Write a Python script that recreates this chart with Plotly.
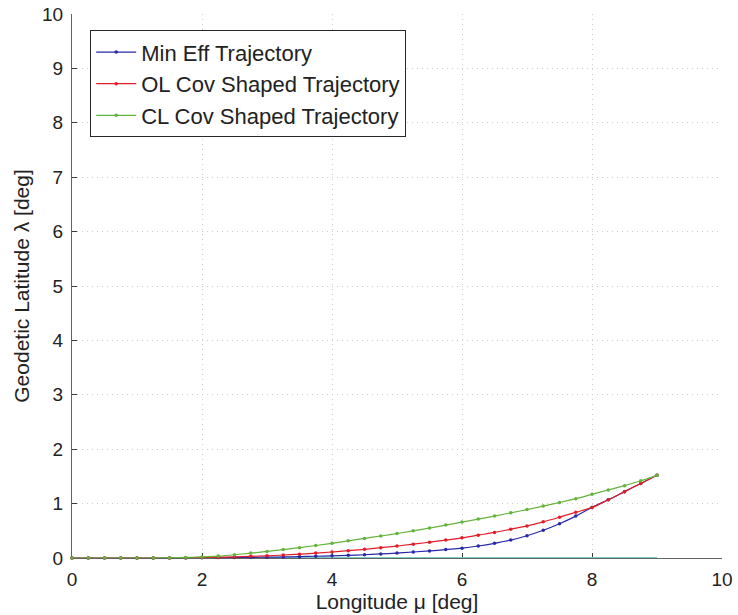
import plotly.graph_objects as go

# Longitude samples [deg]
longitude = [0, 0.25, 0.5, 0.75, 1, 1.25, 1.5, 1.75, 2, 2.25, 2.5, 2.75, 3, 3.25, 3.5, 3.75,
             4, 4.25, 4.5, 4.75, 5, 5.25, 5.5, 5.75, 6, 6.25, 6.5, 6.75, 7, 7.25, 7.5, 7.75,
             8, 8.25, 8.5, 8.75, 9]

# Geodetic latitude [deg] for each trajectory
min_eff = [0, 0, 0, 0, 0, 0, 0, 0.002, 0.005, 0.007, 0.01, 0.012, 0.015, 0.02, 0.025, 0.032,
           0.04, 0.05, 0.06, 0.075, 0.09, 0.11, 0.13, 0.155, 0.18, 0.22, 0.27, 0.33, 0.41, 0.51,
           0.63, 0.77, 0.93, 1.07, 1.22, 1.37, 1.52]
ol_cov = [0, 0, 0, 0, 0, 0, 0, 0.005, 0.01, 0.015, 0.02, 0.03, 0.04, 0.055, 0.07, 0.09,
          0.11, 0.135, 0.16, 0.19, 0.22, 0.255, 0.29, 0.33, 0.37, 0.42, 0.47, 0.53, 0.59, 0.665,
          0.75, 0.84, 0.93, 1.07, 1.22, 1.37, 1.52]
cl_cov = [0, 0, 0, 0, 0, 0, 0.005, 0.01, 0.02, 0.035, 0.06, 0.09, 0.12, 0.155, 0.19, 0.23,
          0.27, 0.315, 0.36, 0.405, 0.45, 0.50, 0.55, 0.605, 0.66, 0.715, 0.77, 0.83, 0.89, 0.955,
          1.02, 1.09, 1.17, 1.25, 1.33, 1.42, 1.52]

# Reference ground line along zero latitude
ground_lon = [2, 9]
ground_lat = [0, 0]

FONT = "Liberation Sans, Arial, sans-serif"

fig = go.Figure()

fig.add_trace(go.Scatter(x=ground_lon, y=ground_lat, mode="lines",
                         line=dict(color="rgb(120,205,195)", width=2),
                         showlegend=False, hoverinfo="skip", cliponaxis=False))

series = [
    ("Min Eff Trajectory", min_eff, "rgb(40,40,170)"),
    ("OL Cov Shaped Trajectory", ol_cov, "rgb(225,30,40)"),
    ("CL Cov Shaped Trajectory", cl_cov, "rgb(100,180,60)"),
]
for name, vals, color in series:
    fig.add_trace(go.Scatter(
        x=longitude, y=vals, name=name, mode="lines+markers",
        line=dict(color=color, width=1.2, shape="spline"),
        marker=dict(color=color, size=3.5),
        cliponaxis=False,
    ))

axis_common = dict(
    showline=True, linecolor="rgb(100,100,100)", linewidth=1,
    ticks="inside", ticklen=5, tickcolor="rgb(60,60,60)",
    showgrid=True, gridcolor="rgb(205,205,205)", griddash="1px,4px", gridwidth=1,
    zeroline=False, mirror=False, layer="below traces", automargin=False,
    tickfont=dict(family=FONT, size=19, color="#222"),
    title_font=dict(family=FONT, size=21, color="#222"),
    ticklabelstandoff=4,
)

fig.update_layout(
    width=738, height=615,
    margin=dict(l=72, r=16, t=14, b=57),
    paper_bgcolor="white", plot_bgcolor="white",
    xaxis=dict(range=[0, 10], dtick=2, title=dict(text="Longitude μ [deg]", standoff=4),
               **axis_common),
    yaxis=dict(range=[0, 10], dtick=1, title=dict(text="Geodetic Latitude λ [deg]", standoff=6),
               **axis_common),
    legend=dict(x=0.028, y=0.97, xanchor="left", yanchor="top",
                bgcolor="white", bordercolor="rgb(40,40,40)", borderwidth=1,
                font=dict(family=FONT, size=22, color="#222"),
                tracegroupgap=0, itemwidth=40),
    showlegend=True,
)

fig.write_html("out.html")
